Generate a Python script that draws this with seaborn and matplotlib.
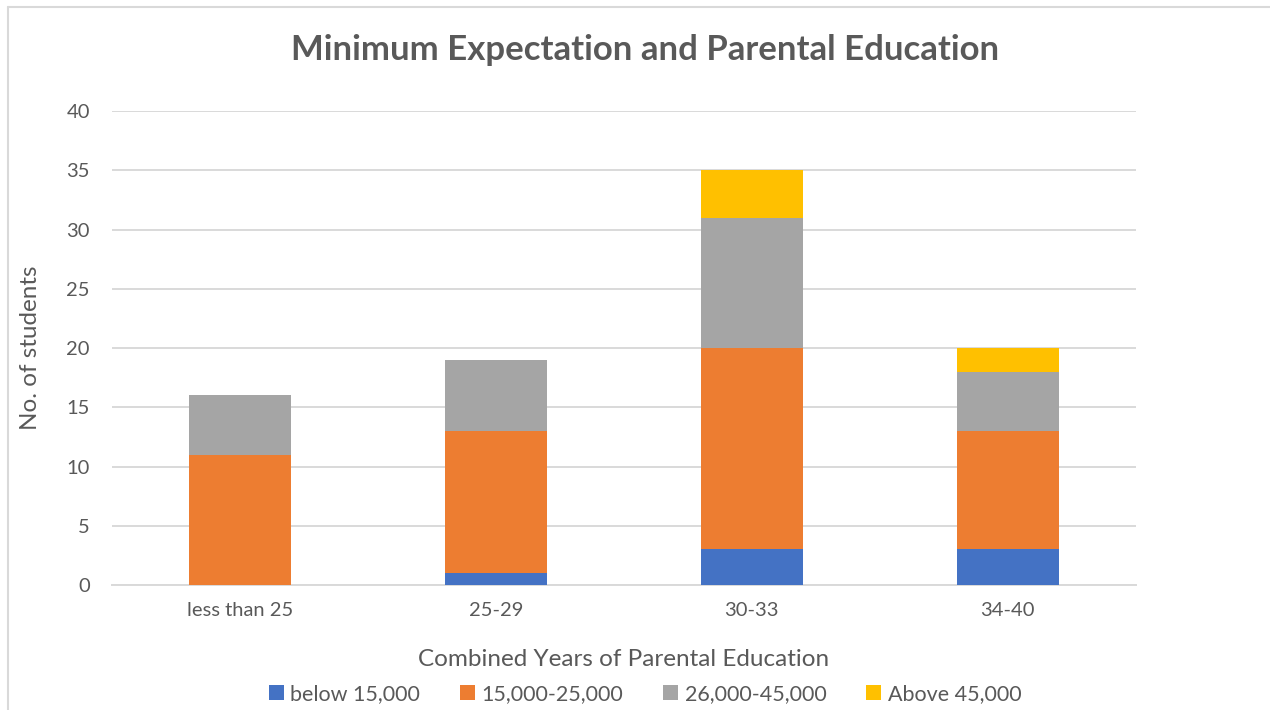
import matplotlib
matplotlib.use("Agg")
import matplotlib.pyplot as plt
from matplotlib.lines import Line2D
from matplotlib.patches import Patch
import pandas as pd
import seaborn as sns

# Combined years of parental education groups
categories = ["less than 25", "25-29", "30-33", "34-40"]

# Number of students per minimum salary expectation band
below_15k = [0, 1, 3, 3]
from_15k_to_25k = [11, 12, 17, 10]
from_26k_to_45k = [5, 6, 11, 5]
above_45k = [0, 0, 4, 2]

series_names = ["below 15,000", "15,000-25,000", "26,000-45,000", "Above 45,000"]
series_values = [below_15k, from_15k_to_25k, from_26k_to_45k, above_45k]
series_colors = ["#4472C4", "#ED7D31", "#A5A5A5", "#FFC000"]

text_color = "#595959"
grid_color = "#D9D9D9"

sns.set_theme(style="white")
plt.rcParams["font.family"] = ["Lato", "DejaVu Sans"]

fig = plt.figure(figsize=(12.7, 7.1), dpi=100)
ax = fig.add_axes([0.0882, 0.176, 0.806, 0.6676])

# Cumulative stack heights, drawn from the top segment down so each
# lower segment covers the part of the bar below its upper edge.
cumulative = []
running = [0] * len(categories)
for vals in series_values:
    running = [r + v for r, v in zip(running, vals)]
    cumulative.append(list(running))

for name, heights, color in reversed(list(zip(series_names, cumulative, series_colors))):
    df = pd.DataFrame({"group": categories, "students": heights})
    sns.barplot(data=df, x="group", y="students", color=color, width=0.4,
                saturation=1, linewidth=0, ax=ax, zorder=3)

ax.set_ylim(0, 40)
ax.set_xlim(-0.5, 3.5)
ax.set_yticks(range(0, 41, 5))
ax.yaxis.grid(True, color=grid_color, linewidth=1.4, zorder=0)
ax.set_axisbelow(True)
for side in ["top", "right", "left"]:
    ax.spines[side].set_visible(False)
ax.spines["bottom"].set_color(grid_color)
ax.spines["bottom"].set_linewidth(1.4)
ax.tick_params(axis="both", length=0, labelsize=14.5, colors=text_color)
ax.tick_params(axis="x", pad=12)
ax.tick_params(axis="y", pad=16)

ax.set_xlabel("Combined Years of Parental Education", fontsize=17.5,
              color=text_color, labelpad=22)
ax.set_ylabel("No. of students", fontsize=17.5, color=text_color, labelpad=18)

fig.suptitle("Minimum Expectation and Parental Education", x=0.508, y=0.952,
             fontsize=25, fontweight="bold", color=text_color)

handles = [Patch(facecolor=c, edgecolor="none") for c in series_colors]
leg = fig.legend(handles, series_names, loc="center", bbox_to_anchor=(0.508, 0.022),
                 ncol=4, frameon=False, fontsize=15.5, handlelength=0.7,
                 handleheight=0.7, handletextpad=0.3, columnspacing=1.85)
for t in leg.get_texts():
    t.set_color(text_color)

# Chart frame (left and top edges)
fig.add_artist(Line2D([8 / 1270, 8 / 1270], [0, 1 - 7 / 710],
                      transform=fig.transFigure, color=grid_color, linewidth=1.5))
fig.add_artist(Line2D([8 / 1270, 1], [1 - 7 / 710, 1 - 7 / 710],
                      transform=fig.transFigure, color=grid_color, linewidth=1.5))

fig.savefig("out.png", dpi=100, facecolor="white")
